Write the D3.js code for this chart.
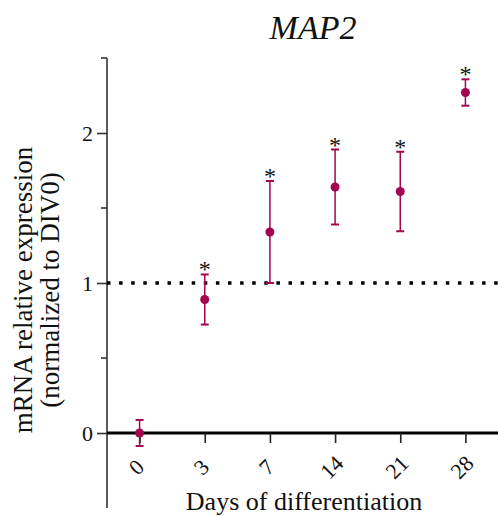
<!DOCTYPE html>
<html>
<head>
<meta charset="utf-8">
<script src="https://cdn.jsdelivr.net/npm/d3@7"></script>
<style>
  body { margin: 0; background: #fff; }
  svg text { font-family: "Liberation Serif", "Times New Roman", serif; fill: #111; }
</style>
</head>
<body>
<div id="chart"></div>
<script>
// Data
const days = ["0", "3", "7", "14", "21", "28"];
const means = [0, 0.89, 1.34, 1.64, 1.61, 2.27];
const errs = [0.087, 0.167, 0.34, 0.25, 0.265, 0.088];
const signif = [false, true, true, true, true, true];
const yTicks = [0, 1, 2];
const yMinorTicks = [0.5, 1.5, 2.5];

// Dimensions
const width = 498, height = 516;
const margins = { top: 58, bottom: 8, left: 107, right: 0 };
const color = "#a3054f";
const serif = "'Liberation Serif', 'Times New Roman', serif";

const svg = d3.select("#chart")
  .append("svg")
  .attr("width", width)
  .attr("height", height);

// Scales
const x = d3.scalePoint().domain(days).range([margins.left, width - margins.right]).padding(0.5);
const y = d3.scaleLinear().domain([-0.5, 2.5]).range([height - margins.bottom, margins.top]);

// Y axis
const yAxis = svg.append("g")
  .attr("class", "yAxis")
  .attr("font-family", null)
  .attr("transform", "translate(" + margins.left + ",0)")
  .call(d3.axisLeft(y).tickValues(yTicks).tickSize(10).tickPadding(4).tickFormat(d3.format("d")));
yAxis.attr("font-family", serif);
yAxis.select(".domain").attr("d", "M0," + y(2.5) + "V" + y(-0.5)).attr("stroke", "#333").attr("stroke-width", 1.6);
yAxis.selectAll(".tick line").attr("stroke", "#333").attr("stroke-width", 1.6);
yAxis.selectAll(".tick text").style("font-size", "22px").style("font-family", serif).attr("fill", "#111");

svg.append("g")
  .attr("class", "yMinor")
  .selectAll("line")
  .data(yMinorTicks)
  .join("line")
  .attr("x1", margins.left - 6)
  .attr("x2", margins.left)
  .attr("y1", d => y(d))
  .attr("y2", d => y(d))
  .attr("stroke", "#333")
  .attr("stroke-width", 1.6);

// X axis on the zero line
const xAxis = svg.append("g")
  .attr("class", "xAxis")
  .attr("transform", "translate(0," + y(0) + ")")
  .call(d3.axisBottom(x).tickSize(10).tickPadding(10));
xAxis.attr("font-family", serif);
xAxis.select(".domain").attr("d", "M" + margins.left + ",0H" + width).attr("stroke", "#000").attr("stroke-width", 3);
xAxis.selectAll(".tick line").attr("stroke", "#222").attr("stroke-width", 1.6);
xAxis.selectAll(".tick text")
  .style("font-size", "22px")
  .style("font-family", serif)
  .attr("fill", "#111")
  .attr("text-anchor", "middle")
  .attr("transform", "translate(-4,34)rotate(-45)")
  .attr("y", 0)
  .attr("dy", "0.35em");

// Reference line at 1
svg.append("line")
  .attr("x1", margins.left)
  .attr("x2", width)
  .attr("y1", y(1))
  .attr("y2", y(1))
  .attr("stroke", "#000")
  .attr("stroke-width", 3.5)
  .attr("stroke-dasharray", "3.5,8.6");

// Error bars
const pts = days.map((d, i) => ({ day: d, mean: means[i], err: errs[i], sig: signif[i] }));
const bars = svg.append("g").attr("class", "errors");
bars.selectAll("line.v")
  .data(pts)
  .join("line")
  .attr("class", "v")
  .attr("x1", d => x(d.day))
  .attr("x2", d => x(d.day))
  .attr("y1", d => y(d.mean - d.err))
  .attr("y2", d => y(d.mean + d.err))
  .attr("stroke", color)
  .attr("stroke-width", 1.5);
["top", "bottom"].forEach(side => {
  bars.selectAll("line." + side)
    .data(pts)
    .join("line")
    .attr("class", side)
    .attr("x1", d => x(d.day) - 4)
    .attr("x2", d => x(d.day) + 4)
    .attr("y1", d => y(side === "top" ? d.mean + d.err : d.mean - d.err))
    .attr("y2", d => y(side === "top" ? d.mean + d.err : d.mean - d.err))
    .attr("stroke", color)
    .attr("stroke-width", 2);
});

// Points
svg.append("g")
  .selectAll("circle")
  .data(pts)
  .join("circle")
  .attr("cx", d => x(d.day))
  .attr("cy", d => y(d.mean))
  .attr("r", 4.5)
  .attr("fill", color);

// Asterisks
svg.append("g")
  .selectAll("text")
  .data(pts.filter(d => d.sig))
  .join("text")
  .attr("x", d => x(d.day))
  .attr("y", d => y(d.mean + d.err) + 3)
  .attr("text-anchor", "middle")
  .style("font-family", serif)
  .style("font-size", "24px")
  .text("*");

// Title
svg.append("text")
  .attr("x", 313)
  .attr("y", 39)
  .attr("text-anchor", "middle")
  .style("font-family", serif)
  .style("font-size", "34px")
  .style("font-style", "italic")
  .text("MAP2");

// Axis labels
svg.append("text")
  .attr("x", 304)
  .attr("y", 510)
  .attr("text-anchor", "middle")
  .style("font-family", serif)
  .style("font-size", "26px")
  .text("Days of differentiation");

const yl = svg.append("text")
  .attr("transform", "translate(32," + 290 + ")rotate(-90)")
  .attr("text-anchor", "middle")
  .style("font-family", serif)
  .style("font-size", "27px");
yl.append("tspan").attr("x", 0).attr("dy", 0).text("mRNA relative expression");
yl.append("tspan").attr("x", 0).attr("dy", "1.0em").text("(normalized to DIV0)");
</script>
</body>
</html>
